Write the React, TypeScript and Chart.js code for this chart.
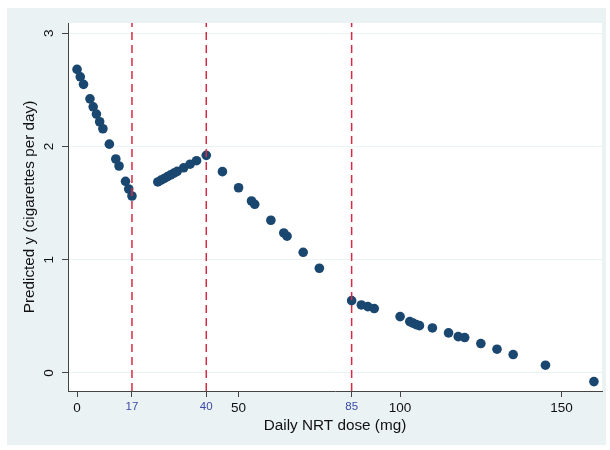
import { useEffect, useRef } from "react";
import { Chart, registerables } from "chart.js";

Chart.register(...registerables);

// Data
const doseSeg1 = [0, 1, 2, 4, 5, 6, 7, 8, 10, 12, 13, 15, 16, 17];
const predSeg1 = [2.68, 2.615, 2.548, 2.42, 2.35, 2.286, 2.218, 2.156, 2.02, 1.889, 1.827, 1.692, 1.624, 1.562];
const doseSeg2 = [25, 26, 27, 28, 29, 30, 31, 33, 35, 37, 40];
const predSeg2 = [1.686, 1.702, 1.717, 1.733, 1.749, 1.764, 1.78, 1.811, 1.843, 1.874, 1.921];
const doseSeg3 = [45, 50, 54, 55, 60, 64, 65, 70, 75];
const predSeg3 = [1.777, 1.635, 1.518, 1.489, 1.348, 1.236, 1.207, 1.065, 0.924];
const doseSeg4 = [85, 88, 90, 92, 100, 103, 104, 105, 106, 110, 115, 118, 120, 125, 130, 135, 145, 160];
const predSeg4 = [0.638, 0.6, 0.585, 0.568, 0.497, 0.453, 0.439, 0.426, 0.417, 0.397, 0.353, 0.32, 0.312, 0.259, 0.209, 0.162, 0.068, -0.077];

const knots = [17, 40, 85];
const xTickValues = [0, 17, 40, 50, 85, 100, 150];
const yTickValues = [0, 1, 2, 3];
const xMin = -2.8;
const xMax = 162.5;
const yMin = -0.16;
const yMax = 3.09;

const FONT = "'Liberation Sans', Arial, Helvetica, sans-serif";

export default function App() {
  const ref = useRef<HTMLCanvasElement | null>(null);

  useEffect(() => {
    if (!ref.current) return;
    const doses = [...doseSeg1, ...doseSeg2, ...doseSeg3, ...doseSeg4];
    const preds = [...predSeg1, ...predSeg2, ...predSeg3, ...predSeg4];
    const points = doses.map((d, i) => ({ x: d, y: preds[i] }));

    const knotSets = knots.map((k) => ({
      type: "line" as const,
      data: [
        { x: k, y: yMin },
        { x: k, y: yMax },
      ],
      borderColor: "#d72b44",
      borderWidth: 1.5,
      borderDash: [8, 5],
      pointRadius: 0,
      fill: false,
    }));

    const bgPlugin = {
      id: "bg",
      beforeDraw(chart: any) {
        const { ctx, chartArea } = chart;
        ctx.save();
        ctx.fillStyle = "#ffffff";
        ctx.fillRect(0, 0, chart.width, chart.height);
        ctx.fillStyle = "#eaf2f3";
        ctx.fillRect(7, 8, 599, 437);
        ctx.fillStyle = "#ffffff";
        ctx.fillRect(chartArea.left, chartArea.top, chartArea.right - chartArea.left, chartArea.bottom - chartArea.top);
        ctx.restore();
      },
      afterDraw(chart: any) {
        const { ctx } = chart;
        const ys = chart.scales.y;
        ctx.save();
        ctx.fillStyle = "#111111";
        ctx.font = `13.5px ${FONT}`;
        ctx.textAlign = "center";
        ctx.textBaseline = "middle";
        ys.ticks.forEach((t: any) => {
          const py = ys.getPixelForValue(t.value);
          ctx.save();
          ctx.translate(49, py);
          ctx.rotate(-Math.PI / 2);
          ctx.fillText(String(t.value), 0, 0);
          ctx.restore();
        });
        ctx.restore();
      },
    };

    const chart = new Chart(ref.current, {
      type: "scatter",
      data: {
        datasets: [
          ...knotSets,
          {
            type: "scatter" as const,
            data: points,
            backgroundColor: "#1a476f",
            borderWidth: 0,
            pointRadius: 4.8,
          },
        ] as any,
      },
      options: {
        responsive: false,
        animation: false,
        layout: { padding: { left: 0, top: 23, right: 8, bottom: 0 } },
        plugins: { legend: { display: false }, tooltip: { enabled: false } },
        scales: {
          x: {
            type: "linear",
            min: xMin,
            max: xMax,
            afterBuildTicks: (s: any) => {
              s.ticks = xTickValues.map((v) => ({ value: v }));
            },
            afterFit: (s: any) => {
              s.height = 59;
            },
            grid: { drawOnChartArea: false, tickLength: 6, tickColor: "#444444" },
            border: { color: "#444444", width: 1 },
            ticks: {
              maxRotation: 0,
              autoSkip: false,
              padding: 3,
              color: (c: any) => (knots.includes(c.tick.value) ? "#3c4aa8" : "#111111"),
              font: (c: any) => ({ family: FONT, size: knots.includes(c.tick?.value) ? 11.5 : 13.5 }),
              callback: (v: any) => String(v),
            },
            title: {
              display: true,
              text: "Daily NRT dose (mg)",
              color: "#111111",
              font: { family: FONT, size: 15.3 },
              padding: { top: 0, bottom: 15 },
            },
          },
          y: {
            type: "linear",
            min: yMin,
            max: yMax,
            afterBuildTicks: (s: any) => {
              s.ticks = yTickValues.map((v) => ({ value: v }));
            },
            afterFit: (s: any) => {
              s.width = 68;
            },
            grid: { color: "#eaf2f3", lineWidth: 1, tickLength: 6, tickColor: "#444444" },
            border: { color: "#444444", width: 1 },
            ticks: { display: false },
            title: {
              display: true,
              text: "Predicted y (cigarettes per day)",
              color: "#111111",
              font: { family: FONT, size: 15.3 },
              padding: { top: 21, bottom: 0 },
            },
          },
        },
      },
      plugins: [bgPlugin],
    });
    return () => chart.destroy();
  }, []);

  return (
    <div style={{ position: "fixed", left: 0, top: 0, width: 610, height: 450 }}>
      <canvas ref={ref} width={610} height={450} />
    </div>
  );
}
